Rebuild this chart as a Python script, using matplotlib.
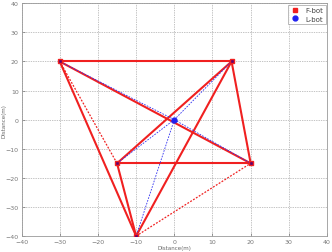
import matplotlib
matplotlib.use('Agg')
import matplotlib.pyplot as plt

# F-bot positions and L-bot position
fbot_x = [-30, 15, -15, 20, -10]
fbot_y = [20, 20, -15, -15, -40]
lbot_x = [0]
lbot_y = [0]

# links between F-bots (index pairs)
solid_links = [(0, 1), (0, 3), (0, 4), (1, 3), (1, 2), (1, 4), (2, 3), (2, 4)]
dotted_links = [(0, 2), (4, 3)]

fig = plt.figure(figsize=(3.32, 2.53), dpi=100)
ax = fig.add_axes([0.065, 0.063, 0.92, 0.92])

for a, b in solid_links:
    ax.plot([fbot_x[a], fbot_x[b]], [fbot_y[a], fbot_y[b]], color='#f02020', lw=1.5, zorder=2)
for a, b in dotted_links:
    ax.plot([fbot_x[a], fbot_x[b]], [fbot_y[a], fbot_y[b]], color='#f02020', lw=0.9, ls=(0, (1.5, 1.2)), zorder=2)

# L-bot to every F-bot
for i in range(len(fbot_x)):
    ax.plot([lbot_x[0], fbot_x[i]], [lbot_y[0], fbot_y[i]], color='#3030f0', lw=0.6, ls=(0, (2, 1.5)), zorder=3)

ax.plot(fbot_x, fbot_y, 's', mec='#f02020', mfc='#600070', ms=3.5, ls='none', zorder=4)
ax.plot(lbot_x, lbot_y, 'o', color='#2020f0', ms=3.5, ls='none', zorder=4)
# legend handles
ax.plot([], [], 's', color='#f02020', ms=3.5, ls='none', label='F-bot')
ax.plot([], [], 'o', color='#2020f0', ms=3.5, ls='none', label='L-bot')

ax.set_xlim(-40, 40)
ax.set_ylim(-40, 40)
ax.set_xticks(range(-40, 41, 10))
ax.set_yticks(range(-40, 41, 10))
ax.tick_params(direction='in', labelsize=4.5, colors='#777777', length=2, width=0.5, pad=2)
ax.grid(True, color='#888888', ls=(0, (1, 1.5)), lw=0.5)
for s in ax.spines.values():
    s.set_color('#999999')
    s.set_linewidth(0.6)
ax.set_xlabel('Distance(m)', fontsize=4, color='#666666', labelpad=1)
ax.set_ylabel('Distance(m)', fontsize=4, color='#666666')
ax.yaxis.set_label_coords(-0.05, 0.5)

leg = ax.legend(loc='upper right', fontsize=5, handlelength=1.2, borderpad=0.4,
                labelspacing=0.3, fancybox=False, edgecolor='#888888', borderaxespad=0.2)
leg.get_frame().set_linewidth(0.5)
for t in leg.get_texts():
    t.set_color('#444444')

plt.savefig('out.png', dpi=100)
